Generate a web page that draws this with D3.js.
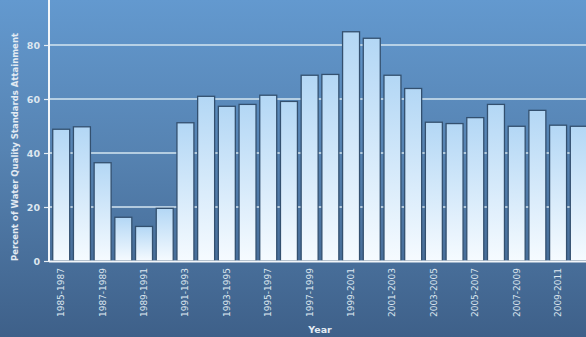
<!DOCTYPE html>
<html>
<head>
<meta charset="utf-8">
<script src="https://cdn.jsdelivr.net/npm/d3@7"></script>
<style>
  html, body { margin: 0; padding: 0; background: #4f7aa8; }
  svg { display: block; }
  text { font-family: "DejaVu Sans", Verdana, sans-serif; }
</style>
</head>
<body>
<svg id="chart" width="586" height="337"></svg>
<script>
// Water quality standards attainment by two-year period
const periods = [
  "1985-1987", "1986-1988", "1987-1989", "1988-1990", "1989-1991", "1990-1992",
  "1991-1993", "1992-1994", "1993-1995", "1994-1996", "1995-1997", "1996-1998",
  "1997-1999", "1998-2000", "1999-2001", "2000-2002", "2001-2003", "2002-2004",
  "2003-2005", "2004-2006", "2005-2007", "2006-2008", "2007-2009", "2008-2010",
  "2009-2011", "2010-2012"
];
const attainment = [
  48.8, 49.7, 36.4, 16.2, 12.8, 19.5,
  51.2, 61.0, 57.3, 58.0, 61.4, 59.1,
  68.8, 69.1, 84.9, 82.5, 68.8, 63.9,
  51.4, 50.9, 53.1, 58.0, 49.9, 55.8,
  50.3, 49.9
];
const yTicks = [0, 20, 40, 60, 80];

const svg = d3.select("#chart");
const W = 586, H = 337;
const left = 49, bottom = 261;

const defs = svg.append("defs");
const bg = defs.append("linearGradient").attr("id", "bg")
  .attr("x1", 0).attr("y1", 0).attr("x2", 0).attr("y2", 1);
bg.append("stop").attr("offset", "0%").attr("stop-color", "#6399cf");
bg.append("stop").attr("offset", "45%").attr("stop-color", "#5683b2");
bg.append("stop").attr("offset", "100%").attr("stop-color", "#3e6089");

const barFill = defs.append("linearGradient").attr("id", "barFill")
  .attr("x1", 0).attr("y1", 0).attr("x2", 0).attr("y2", 1);
barFill.append("stop").attr("offset", "0%").attr("stop-color", "#b3d7f5");
barFill.append("stop").attr("offset", "100%").attr("stop-color", "#f6fbff");

svg.append("rect").attr("width", W).attr("height", H).attr("fill", "url(#bg)");

const x = d3.scaleBand().domain(periods).range([left, 591])
  .paddingInner(0.18).paddingOuter(0.18);
const y = d3.scaleLinear().domain([0, 80]).range([bottom, 45]);

// horizontal gridlines behind the bars
svg.append("g").selectAll("line").data(yTicks.filter(d => d > 0)).join("line")
  .attr("x1", left).attr("x2", W)
  .attr("y1", d => y(d)).attr("y2", d => y(d))
  .attr("stroke", "#d5e6f0").attr("stroke-width", 1.5);

// bars
svg.append("g").selectAll("rect").data(periods).join("rect")
  .attr("x", d => x(d))
  .attr("y", (d, i) => y(attainment[i]))
  .attr("width", x.bandwidth())
  .attr("height", (d, i) => y(0) - y(attainment[i]))
  .attr("fill", "url(#barFill)")
  .attr("stroke", "#33506f").attr("stroke-width", 1.3);

// y axis
const yAxis = d3.axisLeft(y).tickValues(yTicks).tickSize(5).tickPadding(4);
const gy = svg.append("g").attr("transform", `translate(${left},0)`).call(yAxis);
gy.select(".domain").remove();
gy.selectAll(".tick line").attr("stroke", "#e6eef5").attr("stroke-width", 1.2);
gy.selectAll(".tick text").attr("fill", "#dce6ef").attr("font-size", 9.5)
  .attr("font-weight", "bold").attr("font-family", "DejaVu Sans, Verdana, sans-serif");
svg.append("line").attr("x1", left).attr("x2", left).attr("y1", 0).attr("y2", bottom + 1)
  .attr("stroke", "#f2f6fa").attr("stroke-width", 2);

// x axis with every other period labelled
const xAxis = d3.axisBottom(x)
  .tickValues(periods.filter((d, i) => i % 2 === 0))
  .tickSize(0).tickPadding(0);
const gx = svg.append("g").attr("transform", `translate(0,${bottom})`).call(xAxis);
gx.select(".domain").remove();
gx.selectAll(".tick text")
  .attr("transform", "rotate(-90)")
  .attr("text-anchor", "end")
  .attr("x", -7).attr("y", 0).attr("dy", "0.32em")
  .attr("fill", "#dce6ef").attr("font-size", 9)
  .attr("font-family", "DejaVu Sans, Verdana, sans-serif");
svg.append("line").attr("x1", left).attr("x2", W).attr("y1", bottom + 0.5).attr("y2", bottom + 0.5)
  .attr("stroke", "#f2f6fa").attr("stroke-width", 2);

// axis titles
svg.append("text")
  .attr("transform", `translate(18,${147}) rotate(-90)`)
  .attr("text-anchor", "middle")
  .attr("fill", "#e3ebf3").attr("font-size", 8.5).attr("font-weight", "bold")
  .text("Percent of Water Quality Standards Attainment");
svg.append("text")
  .attr("x", 320).attr("y", 333)
  .attr("text-anchor", "middle")
  .attr("fill", "#e3ebf3").attr("font-size", 9.5).attr("font-weight", "bold")
  .text("Year");
</script>
</body>
</html>
